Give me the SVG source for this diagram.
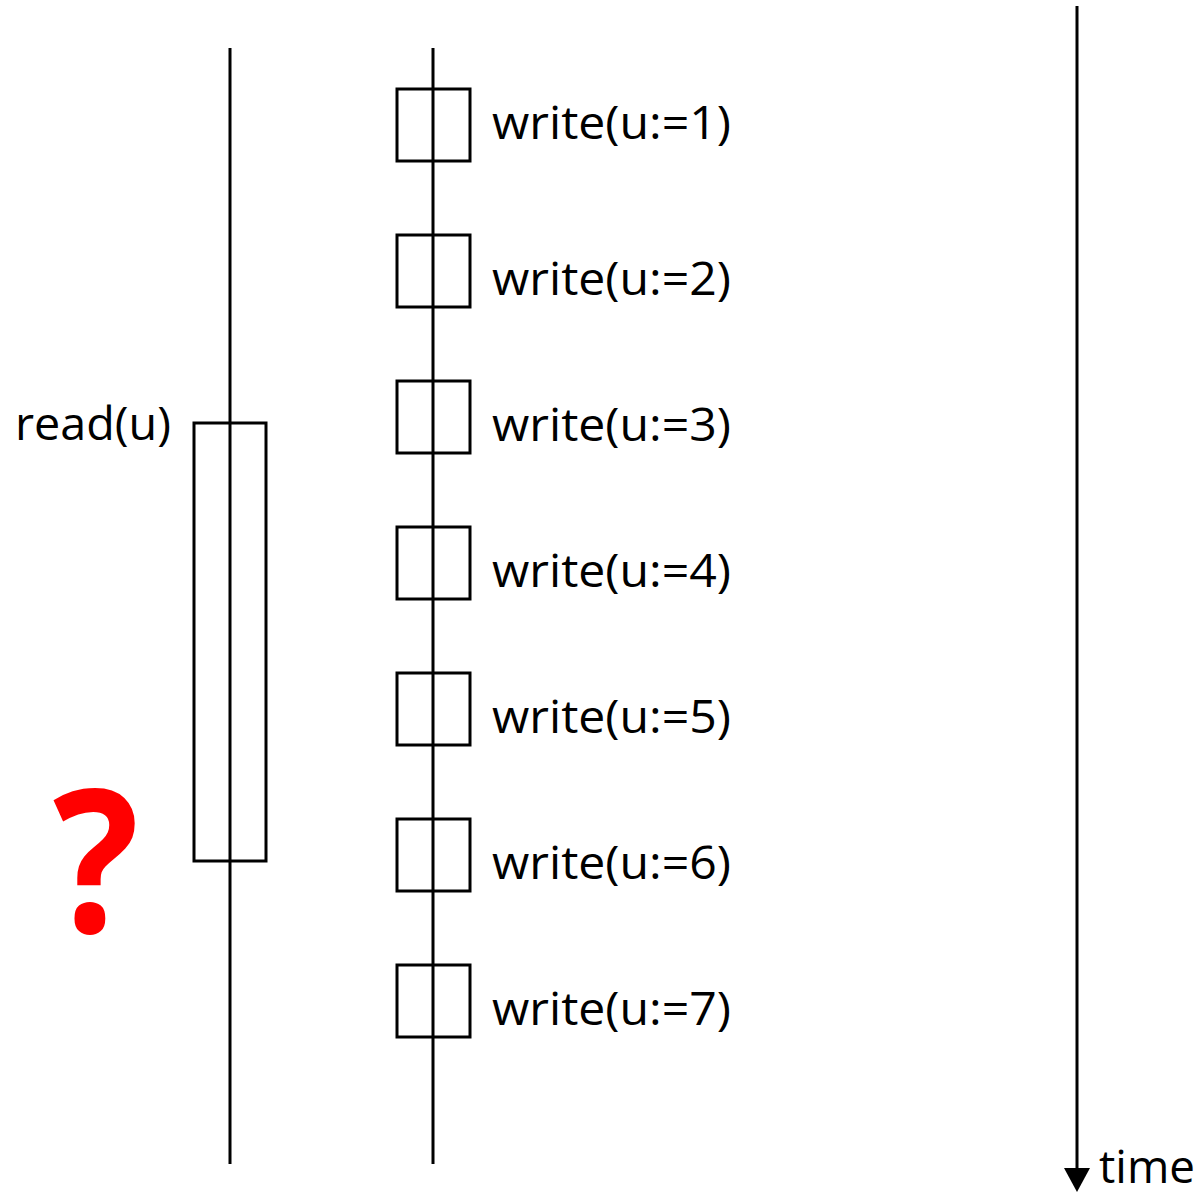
<svg xmlns="http://www.w3.org/2000/svg" width="1202" height="1193" viewBox="0 0 1202 1193">
<defs>
<style>
.ln{stroke:#000;stroke-width:3;fill:none}
.bx{stroke:#000;stroke-width:3;fill:none}
.t{font-family:"Open Sans","Liberation Sans",sans-serif;font-size:46px;fill:#000}
</style>
</defs>
<rect width="1202" height="1193" fill="#fff"/>
<g id="connectors">
<line class="ln" x1="230" y1="48" x2="230" y2="1164"/>
<line class="ln" x1="433" y1="48" x2="433" y2="1164"/>
<line class="ln" x1="1077" y1="6" x2="1077" y2="1170"/>
<polygon points="1064,1168 1090,1168 1077,1192" fill="#000"/>
</g>
<g id="read">
<rect class="bx" x="194" y="423" width="72" height="438"/>
<text class="t" x="15" y="440" textLength="156" lengthAdjust="spacingAndGlyphs">read(u)</text>
</g>
<g id="w1"><rect class="bx" x="397" y="89" width="73" height="72"/><text class="t" x="492" y="139" textLength="239" lengthAdjust="spacingAndGlyphs">write(u:=1)</text></g>
<g id="w2"><rect class="bx" x="397" y="235" width="73" height="72"/><text class="t" x="492" y="295" textLength="239" lengthAdjust="spacingAndGlyphs">write(u:=2)</text></g>
<g id="w3"><rect class="bx" x="397" y="381" width="73" height="72"/><text class="t" x="492" y="441" textLength="239" lengthAdjust="spacingAndGlyphs">write(u:=3)</text></g>
<g id="w4"><rect class="bx" x="397" y="527" width="73" height="72"/><text class="t" x="492" y="587" textLength="239" lengthAdjust="spacingAndGlyphs">write(u:=4)</text></g>
<g id="w5"><rect class="bx" x="397" y="673" width="73" height="72"/><text class="t" x="492" y="733" textLength="239" lengthAdjust="spacingAndGlyphs">write(u:=5)</text></g>
<g id="w6"><rect class="bx" x="397" y="819" width="73" height="72"/><text class="t" x="492" y="879" textLength="239" lengthAdjust="spacingAndGlyphs">write(u:=6)</text></g>
<g id="w7"><rect class="bx" x="397" y="965" width="73" height="72"/><text class="t" x="492" y="1025" textLength="239" lengthAdjust="spacingAndGlyphs">write(u:=7)</text></g>
<g id="question">
<text x="53" y="932" font-family="Open Sans, Liberation Sans, sans-serif" font-weight="bold" font-size="200" fill="#ff0000" textLength="86" lengthAdjust="spacingAndGlyphs">?</text>
</g>
<g id="timelabel">
<text class="t" x="1099" y="1183" font-size="44" textLength="96" lengthAdjust="spacingAndGlyphs">time</text>
</g>
</svg>
